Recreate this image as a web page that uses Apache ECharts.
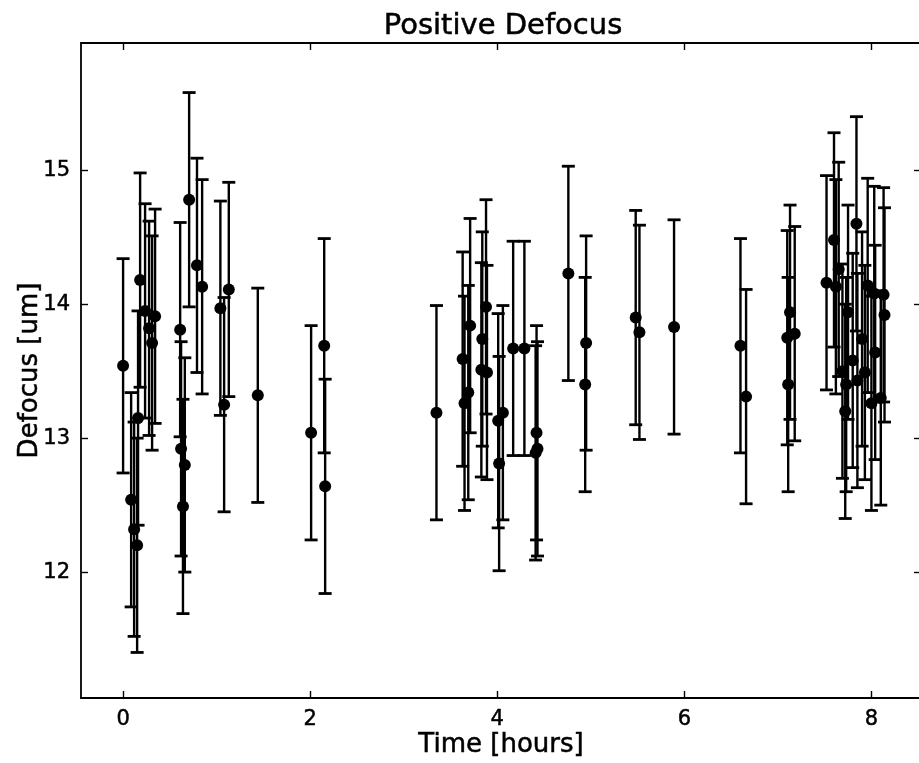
<!DOCTYPE html>
<html>
<head>
<meta charset="utf-8">
<script src="https://cdn.jsdelivr.net/npm/echarts@6/dist/echarts.min.js"></script>
<style>
html,body{margin:0;padding:0;background:#fff;}
#chart{width:919px;height:763px;}
</style>
</head>
<body>
<div id="chart"></div>
<script>
// ---- data ----
var time = [
  0.00, 0.086, 0.118, 0.150, 0.160, 0.182, 0.235, 0.278, 0.310, 0.342,
  0.61, 0.62, 0.64, 0.66, 0.706, 0.79, 0.845,
  1.04, 1.08, 1.13, 1.44,
  2.01, 2.15, 2.16,
  3.35,
  3.63, 3.65, 3.69, 3.71, 3.83, 3.84, 3.88, 3.89,
  4.01, 4.02, 4.06, 4.17, 4.29, 4.41, 4.42, 4.43,
  4.76, 4.94, 4.95,
  5.48, 5.52, 5.89,
  6.60, 6.66, 7.10, 7.11, 7.13, 7.18,
  7.52, 7.60, 7.62, 7.65, 7.69, 7.72, 7.73, 7.75, 7.80, 7.84,
  7.85, 7.90, 7.93, 7.96, 8.00, 8.03, 8.04, 8.10, 8.13, 8.14
];
var defocus = [
  13.54, 12.54, 12.32, 12.20, 13.15, 14.18, 13.95, 13.82, 13.71, 13.91,
  13.81, 12.92, 12.49, 12.80, 14.78, 14.29, 14.13,
  13.97, 13.25, 14.11, 13.32,
  13.04, 13.69, 12.64,
  13.19,
  13.59, 13.26, 13.34, 13.84, 13.51, 13.74, 13.98, 13.49,
  13.13, 12.81, 13.19, 13.67, 13.67, 12.89, 13.04, 12.92,
  14.23, 13.40, 13.71,
  13.90, 13.79, 13.83,
  13.69, 13.31, 13.75, 13.40, 13.94, 13.78,
  14.16, 14.48, 14.13, 14.26, 13.50, 13.20, 13.40, 13.94, 13.58, 14.60,
  13.43, 13.74, 13.49, 14.14, 13.26, 14.08, 13.64, 13.30, 14.07, 13.92
];
var err = [
  0.8, 0.8, 0.8, 0.8, 0.8, 0.8, 0.8, 0.8, 0.8, 0.8,
  0.8, 0.8, 0.8, 0.8, 0.8, 0.8, 0.8,
  0.8, 0.8, 0.8, 0.8,
  0.8, 0.8, 0.8,
  0.8,
  0.8, 0.8, 0.8, 0.8, 0.8, 0.8, 0.8, 0.8,
  0.8, 0.8, 0.8, 0.8, 0.8, 0.8, 0.8, 0.8,
  0.8, 0.8, 0.8,
  0.8, 0.8, 0.8,
  0.8, 0.8, 0.8, 0.8, 0.8, 0.8,
  0.8, 0.8, 0.8, 0.8, 0.8, 0.8, 0.8, 0.8, 0.8, 0.8,
  0.8, 0.8, 0.8, 0.8, 0.8, 0.8, 0.8, 0.8, 0.8, 0.8
];
var xTicks = [0, 2, 4, 6, 8];
var yTicks = [12, 13, 14, 15];
var titleText = 'Positive Defocus';
var xName = 'Time [hours]';
var yName = 'Defocus [um]';

// ---- build ----
var pts = time.map(function (t, i) { return [t, defocus[i]]; });
var bars = time.map(function (t, i) { return [t, defocus[i] - err[i], defocus[i] + err[i]]; });

var FONT = 'DejaVu Sans';
var chart = echarts.init(document.getElementById('chart'), null, {renderer: 'canvas'});

function axisCommon(labels, ticks) {
  return {
    axisLine: {show: true, onZero: false, lineStyle: {color: '#000', width: 1.8}},
    axisTick: {show: true, inside: true, length: 7, customValues: ticks, lineStyle: {color: '#000', width: 1.4}},
    axisLabel: {show: labels, customValues: ticks, color: '#000', fontFamily: FONT, fontSize: 21, margin: 11,
      textBorderColor: '#000', textBorderWidth: 0.5},
    splitLine: {show: false}
  };
}
var nameStyle = {fontFamily: FONT, fontSize: 26, color: '#000', textBorderColor: '#000', textBorderWidth: 0.5};

var option = {
  backgroundColor: '#fff',
  animation: false,
  title: {
    text: titleText, left: 498, top: 7, textAlign: 'center',
    textStyle: {fontFamily: FONT, fontSize: 29, fontWeight: 'normal', color: '#000',
      textBorderColor: '#000', textBorderWidth: 0.5}
  },
  grid: {left: 81, top: 43, width: 840, height: 655, containLabel: false, outerBoundsMode: 'none'},
  xAxis: [
    Object.assign({type: 'value', min: -0.45, max: 8.53, position: 'bottom',
      name: xName, nameLocation: 'middle', nameGap: 34, nameMoveOverlap: false, nameTextStyle: nameStyle}, axisCommon(true, xTicks)),
    Object.assign({type: 'value', min: -0.45, max: 8.53, position: 'top'}, axisCommon(false, xTicks))
  ],
  yAxis: [
    Object.assign({type: 'value', min: 11.06, max: 15.95, position: 'left',
      name: yName, nameLocation: 'middle', nameGap: 38, nameRotate: 90, nameMoveOverlap: false, nameTextStyle: nameStyle}, axisCommon(true, yTicks)),
    Object.assign({type: 'value', min: 11.06, max: 15.95, position: 'right'}, axisCommon(false, yTicks))
  ],
  series: [
    {
      type: 'custom',
      data: bars,
      renderItem: function (params, api) {
        var x = api.value(0);
        var lo = api.coord([x, api.value(1)]);
        var hi = api.coord([x, api.value(2)]);
        var cw = 6.5;
        var st = {stroke: '#000', lineWidth: 2.4};
        var cs = {stroke: '#000', lineWidth: 2.8};
        return {
          type: 'group',
          children: [
            {type: 'line', shape: {x1: lo[0], y1: lo[1], x2: hi[0], y2: hi[1]}, style: st},
            {type: 'line', shape: {x1: lo[0] - cw, y1: lo[1], x2: lo[0] + cw, y2: lo[1]}, style: cs},
            {type: 'line', shape: {x1: hi[0] - cw, y1: hi[1], x2: hi[0] + cw, y2: hi[1]}, style: cs}
          ]
        };
      },
      encode: {x: 0, y: [1, 2]},
      z: 2
    },
    {
      type: 'scatter',
      data: pts,
      symbol: 'circle',
      symbolSize: 12,
      itemStyle: {color: '#000', opacity: 1},
      emphasis: {disabled: true},
      z: 3
    }
  ]
};
chart.setOption(option);
</script>
</body>
</html>
